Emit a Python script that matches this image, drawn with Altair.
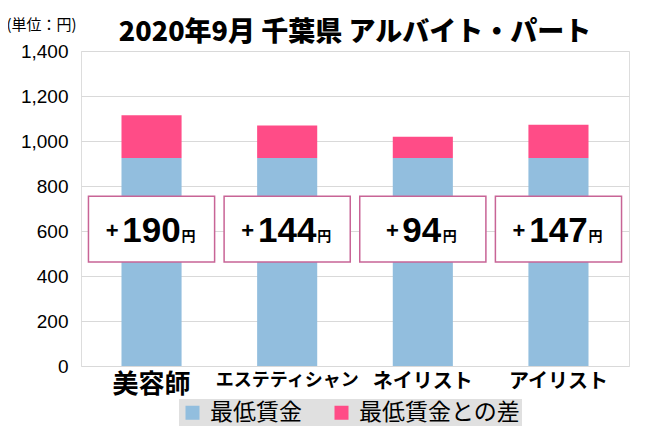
import altair as alt
import pandas as pd

# ---- data ----
categories = ["美容師", "エステティシャン", "ネイリスト", "アイリスト"]
min_wage = [925, 925, 925, 925]
diff = [190, 144, 94, 147]
series = ["最低賃金", "最低賃金との差"]
colors = ["#92BEDE", "#FF4C87"]
y_ticks = [0, 200, 400, 600, 800, 1000, 1200, 1400]
box_lo = 462
box_hi = 755
title_text = "2020年9月 千葉県 アルバイト・パート"
unit_text = "(単位：円)"

rows = []
for c, m, d in zip(categories, min_wage, diff):
    rows.append({"cat": c, "series": series[0], "value": m, "ord": 0})
    rows.append({"cat": c, "series": series[1], "value": d, "ord": 1})
df = pd.DataFrame(rows)

lab = pd.DataFrame({
    "cat": categories,
    "diff": [str(d) for d in diff],
    "nd": [len(str(d)) for d in diff],
    "plus": ["+"] * len(categories),
    "yen": ["円"] * len(categories),
    "lo": [box_lo] * len(categories),
    "hi": [box_hi] * len(categories),
})

JP = "Noto Sans CJK JP"
NUM = "Liberation Sans"

x_enc = alt.X(
    "cat:N",
    sort=categories,
    scale=alt.Scale(paddingInner=0, paddingOuter=0.02),
    axis=alt.Axis(
        title=None,
        labelAngle=0,
        labelFont=JP,
        labelFontWeight="bold",
        labelColor="black",
        labelFontSize={"condition": [
            {"test": "datum.value == '美容師'", "value": 26},
            {"test": "datum.value == 'エステティシャン'", "value": 18}],
            "value": 20},
        labelPadding=5,
        ticks=False,
        domain=False,
        grid=False,
    ),
)

y_scale = alt.Scale(domain=[0, 1400], nice=False)

bars = alt.Chart(df).mark_bar(width=alt.RelativeBandSize(0.443)).encode(
    x=x_enc,
    y=alt.Y(
        "value:Q",
        stack="zero",
        scale=y_scale,
        axis=alt.Axis(
            values=y_ticks,
            format=",.0f",
            title=unit_text,
            titleAngle=0,
            titleAlign="left",
            titleBaseline="middle",
            titleX=-75,
            titleY=-27,
            titleFont=JP,
            titleFontSize=15,
            titleFontWeight="normal",
            titleColor="black",
            labelFont=NUM,
            labelFontSize=19,
            labelColor="black",
            labelPadding=13,
            ticks=False,
            domain=False,
            grid=True,
            gridColor="#D9D9D9",
        ),
    ),
    color=alt.Color(
        "series:N",
        scale=alt.Scale(domain=series, range=colors),
        legend=alt.Legend(
            title=None,
            orient="none",
            legendX=98,
            legendY=348,
            direction="horizontal",
            fillColor="#E0E0E0",
            padding=2,
            symbolType="square",
            symbolSize=196,
            symbolStrokeWidth=0,
            symbolOpacity=1,
            labelFont=JP,
            labelFontSize=23,
            labelColor="black",
            labelLimit=400,
            columnPadding=28,
            labelOffset=6,
        ),
    ),
    order=alt.Order("ord:Q"),
)

boxes = alt.Chart(lab).mark_bar(
    fill="white", stroke="#C86496", strokeWidth=1.5,
    width=alt.RelativeBandSize(0.93),
).encode(
    x=alt.X("cat:N", sort=categories),
    y=alt.Y("lo:Q", scale=y_scale),
    y2="hi:Q",
)


def labels(nd, plus_dx, num_dx, yen_dx):
    base = alt.Chart(lab).transform_filter(f"datum.nd == {nd}")
    num = base.mark_text(
        font=NUM, fontSize=35, fontWeight="bold", color="black",
        align="center", baseline="alphabetic", dx=num_dx,
    ).encode(x=alt.X("cat:N", sort=categories), y=alt.datum(551), text="diff:N")
    plus = base.mark_text(
        font=NUM, fontSize=22, fontWeight="bold", color="black",
        align="right", baseline="alphabetic", dx=plus_dx,
    ).encode(x=alt.X("cat:N", sort=categories), y=alt.datum(570), text="plus:N")
    yen = base.mark_text(
        font=JP, fontSize=14, fontWeight="bold", color="black",
        align="left", baseline="alphabetic", dx=yen_dx,
    ).encode(x=alt.X("cat:N", sort=categories), y=alt.datum(555), text="yen:N")
    return [num, plus, yen]


text_layers = labels(3, -33, 0, 30) + labels(2, -24, -1, 20)

chart = alt.layer(bars, boxes, *text_layers).properties(
    width=548,
    height=315,
    autosize=alt.AutoSizeParams(type="none"),
    padding={"left": 73, "top": 43, "right": 13, "bottom": 60},
    title=alt.TitleParams(
        title_text,
        font=JP,
        fontSize=27,
        fontWeight=900,
        color="black",
        anchor="middle",
        baseline="alphabetic",
        offset=10,
        dy=61,
    ),
).configure_view(stroke="#C0C0C0", strokeWidth=1).configure(background="white")

chart.save("out.html", embed_options={"renderer": "svg", "actions": False})
